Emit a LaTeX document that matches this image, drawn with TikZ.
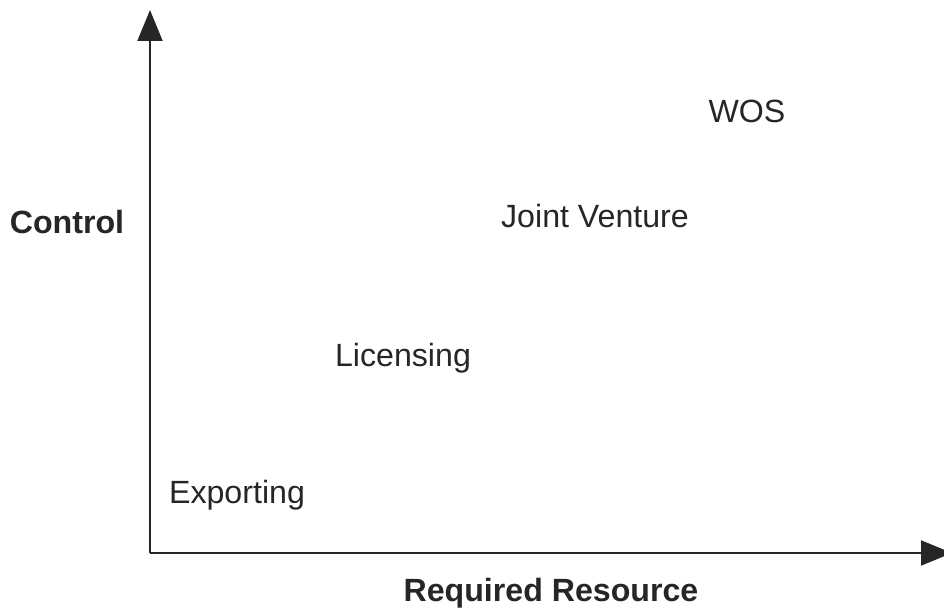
\documentclass[tikz,border=0pt]{standalone}
\usepackage{fontspec}
\setmainfont{Liberation Sans}
\usetikzlibrary{arrows.meta}
\begin{document}
\begin{tikzpicture}[x=0.02cm,y=-0.02cm,line join=round,
  axis/.style={line width=1.1pt,color=black!85,-{Triangle[length=0.62cm,width=0.5cm]}},
  lbl/.style={anchor=base,inner sep=0pt,text=black!85,font=\fontsize{18.3}{21}\selectfont},
  ttl/.style={lbl,font=\fontsize{18.3}{21}\selectfont\bfseries}]
\useasboundingbox (0,0) rectangle (944,608);
\coordinate (O) at (150,553);
\coordinate (Y) at (150,10);
\coordinate (X) at (952,553);
\draw[axis] (O)--(Y);
\draw[axis] (O)--(X);
\node[lbl] (wos) at (747,123) {WOS};
\node[lbl] (jv) at (595,228) {Joint Venture};
\node[lbl] (lic) at (403,366) {Licensing};
\node[lbl] (exp) at (237,503) {Exporting};
\node[ttl] (ctrl) at (67,234) {Control};
\node[ttl] (res) at (551,601) {Required Resource};
\end{tikzpicture}
\end{document}
